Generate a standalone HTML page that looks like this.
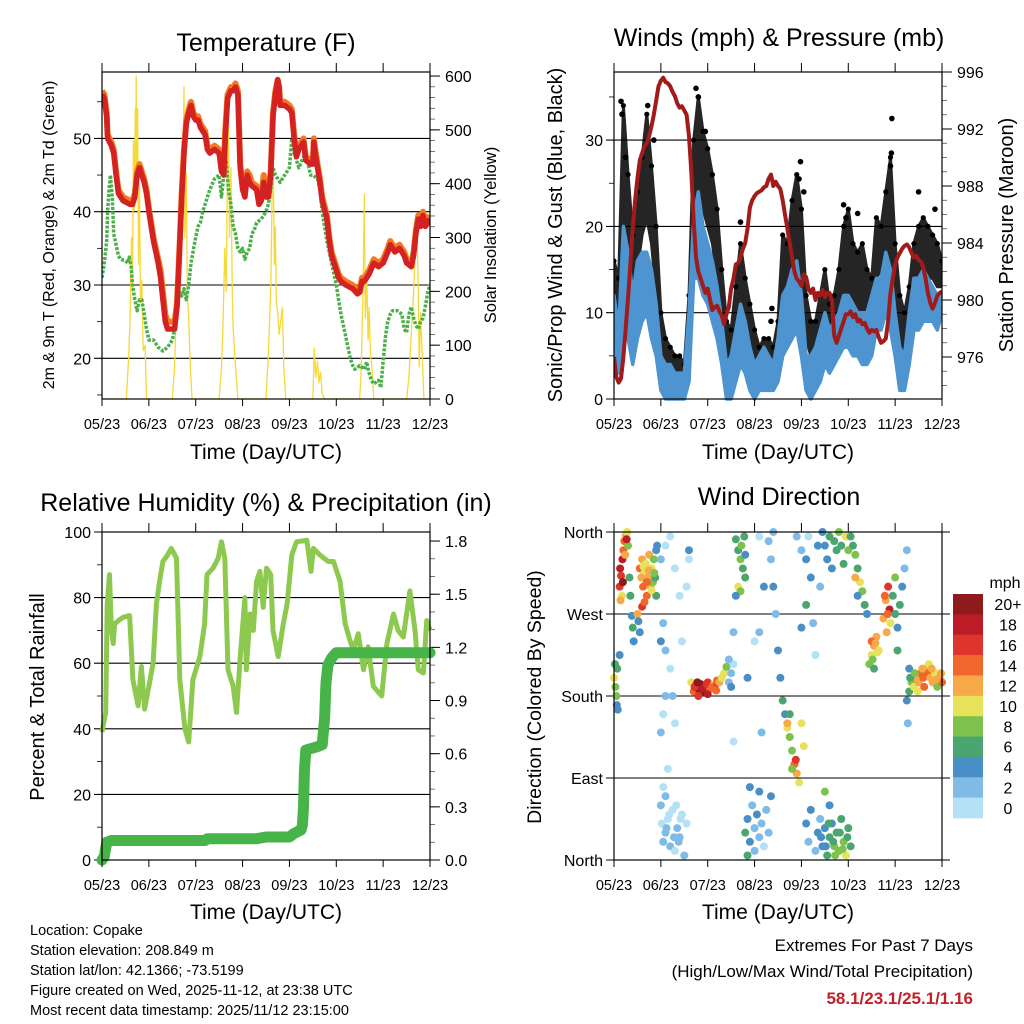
<!DOCTYPE html>
<html><head><meta charset="utf-8"><style>
html,body{margin:0;padding:0;background:#fff;}
svg{display:block;font-family:"Liberation Sans",sans-serif;}
</style></head><body>
<svg id="chart" width="1024" height="1024" viewBox="0 0 1024 1024" xmlns="http://www.w3.org/2000/svg"></svg>
<script>
// ---------- shared ----------
const xTickLabels = ["05/23","06/23","07/23","08/23","09/23","10/23","11/23","12/23"];

// ---------- temperature ----------
const tDays = [0,0.05,0.1,0.12,0.2,0.25,0.3,0.35,0.45,0.6,0.65,0.7,0.75,0.8,0.85,0.9,0.95,1.0,1.05,1.1,1.2,1.25,1.3,1.35,1.4,1.5,1.55,1.6,1.65,1.7,1.75,1.8,1.85,1.9,1.95,2.0,2.05,2.1,2.2,2.25,2.3,2.4,2.5,2.55,2.6,2.63,2.68,2.75,2.8,2.85,2.9,2.93,2.95,3.0,3.05,3.1,3.15,3.2,3.3,3.35,3.4,3.45,3.5,3.55,3.6,3.65,3.7,3.75,3.78,3.8,3.9,4.0,4.05,4.1,4.15,4.2,4.3,4.35,4.45,4.5,4.52,4.55,4.6,4.65,4.7,4.8,4.85,4.9,5.0,5.05,5.1,5.2,5.35,5.45,5.5,5.55,5.6,5.7,5.8,5.9,6.0,6.1,6.15,6.25,6.35,6.45,6.5,6.6,6.65,6.7,6.75,6.8,6.85,6.9,6.95,7.0];
const temp2m = [56,55.5,53,50,49,48,45,42.5,41.5,41,41,42,45,46,45,44,42.5,40,38,36,33,31,28,25,24,24,24,27,34,42,48,52,53.5,54.5,53,52.5,52.5,51.5,50.5,48.5,48,48.5,48,45.5,45,50,55.5,56.5,56.5,57,56,50,46,43,42,45,44,43.5,43,41,41.5,44,42,42,45,53,56,58,57,54.5,54.5,54,53.5,50,47.5,48.5,49.5,47,46.5,46.5,49.5,48,46,44,41.5,39,36,34,32,31,30.5,30,29.5,28.8,29,30.5,30.5,31.5,33,32.5,33,34.5,35.5,34.5,35,34,33,32.5,34,37,39,38,39.5,38,38.5,39];
const temp9m = [56.5,56,53.5,50.5,49.5,48.5,45.5,43,42,41.5,41.5,42.5,45.5,46.5,45.5,44.5,43,40.5,38.5,36.5,33.5,32,29,26,25,25,25,27.5,34.5,42.5,48.5,52.5,54,55,53.5,53,53,52,51,49,48.5,49,48.5,46,45.5,51,56,57,57,57.5,56.5,50.5,46.5,44,43,45.5,45,44,43.5,41.5,42,45,42.5,42.5,45.5,53.5,56.5,58,57,55,55,54.5,54,50.5,48,49,50,47.5,47,47,50,48.5,46.5,44.5,42,39.5,36.5,34.5,32.5,31.5,31,30.5,30,29.3,29.5,31,31,32,33.5,33,33.5,35,36,35,35.5,34.5,33.5,33,34.5,37.5,39.5,38.5,40,38.5,39,39.5];
const dewDays = [0,0.05,0.1,0.12,0.15,0.18,0.22,0.25,0.3,0.35,0.4,0.5,0.55,0.58,0.62,0.65,0.7,0.75,0.8,0.85,0.9,0.95,1.0,1.1,1.2,1.3,1.4,1.5,1.55,1.6,1.65,1.7,1.75,1.8,1.85,1.9,2.0,2.05,2.1,2.15,2.3,2.4,2.5,2.55,2.6,2.65,2.7,2.75,2.8,2.85,2.9,2.95,3.0,3.05,3.1,3.15,3.2,3.25,3.3,3.4,3.5,3.55,3.6,3.65,3.7,3.75,3.8,3.9,4.0,4.05,4.1,4.15,4.2,4.3,4.35,4.4,4.45,4.5,4.6,4.65,4.7,4.8,4.9,5.0,5.05,5.1,5.15,5.2,5.3,5.35,5.4,5.5,5.6,5.65,5.7,5.75,5.8,5.9,5.95,6.0,6.05,6.1,6.15,6.2,6.3,6.4,6.45,6.5,6.55,6.6,6.65,6.7,6.75,6.8,6.85,6.9,6.95,7.0];
const dewVals = [31,33,36,40,43,45,42,37,35.5,34,33.5,33.3,33,33.8,32.5,30,28,26.5,28,28,26,24,22.5,22.5,21.5,21,21.5,22.5,24,27,29,28.5,29.5,28,30,33,36.5,38,38.5,40,43,44.5,45,42,45,47,43,41,38,37,35,34.5,35,33.5,34.5,35,37,37.5,38.5,39,40,41,43,46,45,44.5,44,45,46,50,48,47,46,47.5,48,46.5,45,45,44.5,43,40,36,33,30,28,26,24.5,23,20,19,18.5,19,18.5,19.5,18,17,16.5,17,16,19.5,23,25,26,26.5,26.5,26,24,23.5,26,27,25.5,24.5,24,25,25.5,27,29,30];
const solarDays = [0,0.52,0.57,0.6,0.63,0.65,0.67,0.69,0.71,0.72,0.73,0.745,0.76,0.78,0.8,0.82,0.85,0.88,0.92,0.95,1.5,1.55,1.58,1.6,1.62,1.65,1.67,1.7,1.72,1.75,1.77,1.8,1.82,1.85,1.88,1.92,2.5,2.55,2.58,2.62,2.65,2.68,2.7,2.72,2.75,2.78,2.8,2.85,2.9,3.5,3.55,3.6,3.63,3.65,3.68,3.7,3.72,3.75,3.78,3.85,3.88,3.92,4.5,4.53,4.56,4.6,4.63,4.66,4.7,4.75,5.5,5.53,5.57,5.6,5.62,5.65,5.68,5.7,5.73,5.76,5.8,6.5,6.55,6.6,6.65,6.7,6.72,6.75,6.77,6.8,6.83,6.87,7.0];
const solarVals = [0,0,80,150,300,200,480,350,540,420,600,380,540,250,400,180,220,90,100,0,0,60,150,250,200,380,300,450,350,580,300,420,200,150,70,0,0,60,130,280,200,460,520,300,430,200,130,60,0,0,80,200,380,470,250,320,180,160,120,170,60,0,0,95,40,70,30,50,10,0,0,50,200,380,150,230,110,170,80,60,0,0,40,120,200,300,330,200,60,160,90,0,0];
const tempTicks = [20,30,40,50];
const tempMinor = [15,25,35,45,55];
const solarTicks = [0,100,200,300,400,500,600];

// ---------- winds ----------
const windStep = 0.1;
const gustLo = [9,8,20,16,12,15,19,21,18,12,5,4,3,3,2,2,5,22,25,22,20,18,14,9,5,4,6,10,8,7,4,3,4,3,3,4,10,12,14,17,13,7,5,4,6,8,7,7,9,11,12,10,10,10,9,9,14,15,16,15,10,7,5,8,12,14,15,14,14,13,13];
const gustHi = [16,14,34,26,19,24,28,33,27,20,10,7,6,5,5,4,12,30,35,31,29,26,22,15,9,8,13,18,14,11,8,6,7,7,6,9,19,18,23,26,22,12,9,9,12,15,11,12,15,20,22,18,17,18,15,14,21,20,24,28,18,12,10,13,18,20,21,20,19,18,16];
const windLo = [6,3,10,7,4,7,9,10,7,5,1,0,0,0,0,0,2,14,14,12,11,9,7,4,0,0,2,4,3,1,0,1,1,1,1,2,5,6,7,8,5,1,0,1,2,4,3,4,5,6,6,5,5,4,4,5,8,8,10,8,5,1,1,4,8,8,9,9,9,8,10];
const windHi = [12,8,20,17,12,16,17,17,15,11,5,4,4,3,3,3,10,21,24,20,18,16,13,9,4,5,8,11,9,6,4,5,6,5,4,7,12,13,15,16,12,5,5,6,8,10,8,9,10,12,12,11,10,10,10,12,14,14,17,15,10,6,5,10,14,14,15,14,13,12,12];
const gustExtraDays = [0.15,0.17,0.25,0.72,0.85,1.75,1.8,1.95,2.7,3.35,3.37,3.98,3.95,4.05,4.9,4.95,5.2,5.93,5.92,5.9,6.5,6.85];
const gustExtraVals = [34.5,33,28,34,30,36,35,31,20.5,9,10.5,27.5,25.5,24,22.5,21,21.5,32.5,28.5,27,24,22];
const pressStep = 0.05;
const pressVals = [976,974.6,974.2,974.5,976,978,980.2,982.5,985,987,988.5,989.8,990.3,990.8,991,991.5,992.2,993,994,995,
995.4,995.6,995.3,995.2,995,994.6,994.3,993.8,993.5,993.6,993.3,993,991.5,989,985.5,983,982,981.5,981,980.5,
980.8,980,979.3,979.5,979.6,979.2,978.9,978.3,979,979.5,980.8,981.5,982.5,982.6,983,983.6,984,985,986.5,987,
987.3,987.5,987.6,987.7,987.9,988,988.5,988.8,988,988.3,988,987.8,987,986,985,984,983,982,981.5,981.3,
981,981.8,981.6,980.8,980.5,980.8,980,980.5,980.3,980.7,980.2,980.5,980.5,980,977.5,977,977.5,978,978.5,979,
979,979.2,978.8,979,978.5,978.6,978.3,978.4,978,977.7,977.9,977.8,977.9,977.4,977,977.1,977.3,978.5,980.5,981.5,
982.5,983,983.3,983.6,983.8,983.9,983.7,983.3,983,983.1,982.8,982.7,982.3,981.5,980.5,979.8,979.4,979.8,980.3,980.5,980.6];
const windTicks = [0,10,20,30];
const windMinor = [5,15,25,35];
const pressTicks = [976,980,984,988,992,996];

// ---------- humidity / precip ----------
const rhDays = [0,0.08,0.11,0.16,0.2,0.24,0.27,0.35,0.45,0.59,0.66,0.77,0.84,0.91,1.0,1.09,1.16,1.23,1.3,1.4,1.48,1.59,1.66,1.77,1.85,1.94,2.09,2.19,2.24,2.37,2.48,2.55,2.62,2.69,2.8,2.87,2.94,3.05,3.08,3.16,3.23,3.3,3.37,3.44,3.51,3.6,3.65,3.76,3.87,3.95,4.05,4.15,4.37,4.46,4.51,4.65,4.83,4.94,5.08,5.19,5.29,5.36,5.47,5.58,5.68,5.79,5.97,6.08,6.22,6.32,6.43,6.57,6.68,6.75,6.86,6.93,7.0];
const rhVals = [39,45,78,87,70,66,72,73,74,74.5,55,47,59,46,53,60,78,85,91,93,95,92,55,40,36,55,62,72,87,89,92,97,92,58,53,45,60,80,58,75,70,85,88,77,89,87,70,62,72,78,93,97,97.5,88,95,93,91,91,85,72,67,64,69,58,65,53,50,66,75,70,68,82,70,58,57,73,70];
const precipDays = [0,0.05,0.1,0.2,2.2,2.25,3.3,3.5,4.0,4.1,4.25,4.28,4.3,4.32,4.35,4.6,4.7,4.75,4.78,4.82,4.9,5.0,7.0];
const precipVals = [0,0.02,0.1,0.11,0.11,0.12,0.12,0.13,0.13,0.15,0.17,0.2,0.3,0.5,0.62,0.64,0.65,0.8,1.0,1.1,1.14,1.17,1.17];
const rhTicks = [0,20,40,60,80,100];
const rhMinor = [10,30,50,70,90];
const precipTicks = [0,0.3,0.6,0.9,1.2,1.5,1.8];
const precipTickLabels = ["0.0","0.3","0.6","0.9","1.2","1.5","1.8"];

// ---------- wind direction ----------
const dirDays = [
0.12,0.13,0.15,0.18,0.2,0.22,0.25,0.28,0.3,0.17,0.14,0.19,0.24,0.27,0.33,0.35,0.38,0.4,0.42,
0.55,0.6,0.62,0.65,0.68,0.7,0.72,0.75,0.78,0.8,0.83,0.85,0.88,0.9,0.92,0.6,0.65,0.5,0.52,0.55,0.9,
0.0,0.02,0.03,0.05,0.06,0.08,0.07,0.12,
1.0,1.02,1.05,1.1,1.15,1.2,1.25,1.3,1.35,1.4,1.45,1.5,1.55,1.05,1.1,1.15,1.0,1.05,1.1,1.0,1.05,1.1,1.2,1.25,1.3,1.0,1.1,1.2,1.3,1.4,1.45,1.55,1.6,1.6,
1.65,1.7,1.75,1.8,1.85,1.9,1.95,2.0,2.05,2.1,2.15,2.2,2.25,2.3,2.35,2.4,2.45,2.5,2.55,2.45,2.5,1.8,2.0,
2.6,2.65,2.7,2.72,2.75,2.78,2.8,2.65,2.7,2.8,2.6,2.55,2.55,
2.8,2.85,2.9,2.95,3.0,3.05,3.1,3.15,3.2,3.25,3.3,3.35,2.9,2.85,3.0,3.1,
2.85,3.0,3.1,3.15,3.2,3.3,3.35,3.4,3.45,3.5,3.55,3.4,3.1,
3.6,3.65,3.7,3.75,3.8,3.85,3.9,3.88,3.95,4.0,4.05,3.7,3.8,3.75,
3.9,4.0,4.1,4.15,4.2,4.25,4.3,4.0,4.1,4.35,4.4,
4.1,4.15,4.2,4.3,4.35,4.4,4.45,4.5,4.55,4.6,4.65,4.7,4.75,4.8,4.85,4.9,4.95,5.0,5.05,4.6,4.5,
4.45,4.5,4.55,4.6,4.65,4.7,4.75,4.8,4.85,4.9,4.95,5.0,
5.05,5.1,5.15,5.2,5.25,5.3,5.35,5.4,5.15,5.2,
5.45,5.5,5.55,5.6,5.65,5.55,5.5,5.75,5.8,5.85,5.88,5.9,5.82,
5.95,6.0,6.05,6.1,6.15,6.2,6.25,6.05,6.0,
6.25,6.3,6.35,6.4,6.45,6.5,6.55,6.6,6.65,6.7,6.75,6.8,6.85,6.9,6.95,7.0,6.72,6.3,6.27,
0.58,0.63,0.7,0.74,0.8,0.86,
1.12,1.18,1.28,1.33,1.38,1.42,
4.42,4.52,4.58,4.68,4.72,4.82,4.88,4.98,
5.52,5.58,5.62,5.78,5.84,
6.32,6.42,6.48,6.58,6.62,6.78,6.88,6.98,
1.72,1.78,1.88,1.98,2.08,2.18];
const dirDegs = [
300,320,312,330,340,350,356,360,345,290,285,305,335,352,310,290,268,255,240,
320,330,300,315,325,290,310,335,300,320,305,330,310,340,345,278,283,270,262,250,290,
200,215,190,180,170,165,210,225,
60,40,20,30,45,15,55,10,35,25,50,5,40,80,70,100,140,160,180,240,260,230,210,180,150,330,345,355,320,290,240,300,330,340,
195,185,192,188,193,185,190,195,188,192,190,197,195,200,205,212,195,205,215,220,190,180,182,
352,340,330,345,320,355,310,300,295,335,290,250,130,
30,45,20,60,35,50,25,40,15,55,30,70,80,5,10,75,
200,240,250,140,300,350,330,300,270,230,200,360,355,
175,160,145,135,120,105,95,110,85,150,125,150,100,160,
355,340,330,355,310,260,225,255,280,345,300,
40,20,55,10,30,45,15,35,5,25,40,15,30,10,45,20,5,35,15,60,75,
360,345,330,355,320,350,340,360,345,325,355,340,
355,345,335,320,305,295,280,270,310,290,
215,225,235,245,230,210,240,265,285,300,275,260,250,
290,270,255,280,300,320,340,230,310,
175,185,195,190,200,195,205,200,210,205,200,195,205,190,200,195,215,210,150,
310,322,305,318,296,315,
35,50,25,60,20,45,
25,15,40,20,5,30,12,25,
220,238,228,290,270,
200,205,185,210,190,210,198,205,
190,195,188,193,189,186];
const dirSpeeds = [
17,19,16,18,15,14,12,10,8,11,13,20,13,18,7,6,4,6,5,
15,12,14,11,10,15,13,12,12,11,9,8,6,4,4,16,14,12,5,4,6,
10,7,8,9,5,4,6,4,
2,1,2,3,1,2,0,1,3,2,1,2,0,1,2,0,2,1,3,4,3,2,1,2,0,2,0,1,0,1,0,1,0,4,
10,15,17,21,22,20,18,16,14,13,17,14,12,11,10,9,3,2,1,2,4,16,19,
7,6,9,8,6,7,6,10,8,5,4,2,1,
6,5,4,3,2,4,3,2,1,3,2,4,5,7,3,4,
4,0,2,3,4,3,2,4,3,4,4,2,1,
6,5,10,8,9,14,12,17,10,11,10,13,8,7,
3,2,4,1,4,3,1,4,6,4,2,
4,2,4,3,4,2,5,4,6,7,5,8,6,9,7,8,10,6,7,5,9,
4,4,5,6,4,6,7,8,7,6,10,8,
6,7,8,6,10,8,6,5,12,4,
8,10,12,13,11,7,14,12,13,16,18,11,12,
7,6,5,6,4,3,2,6,9,
4,6,8,10,12,13,14,15,12,14,13,12,10,8,12,14,11,4,2,
13,11,14,12,10,9,
2,1,3,0,2,1,
5,4,6,7,8,6,9,7,
9,12,11,14,15,
6,9,11,13,14,12,13,12,
16,20,19,17,15,14];
const dirTicks = [0,90,180,270,360];
const dirTickLabels = ["North","East","South","West","North"];
const speedBinLabels = ["0","2","4","6","8","10","12","14","16","18","20+"];
const speedColors = ["#b5e1f6","#7fbbe6","#4a8ec6","#4aa56f","#7cc24d","#e8e25a","#f7a847","#f0662b","#dd342b","#bb1c26","#8e1a1e"];

// ---------- helpers ----------
const NS = "http://www.w3.org/2000/svg";
const svg = document.getElementById("chart");
function mk(tag, attrs, parent) {
  const e = document.createElementNS(NS, tag);
  for (const k in attrs) e.setAttribute(k, attrs[k]);
  (parent || svg).appendChild(e);
  return e;
}
function txt(str, x, y, size, anchor, parent, extra) {
  const t = mk("text", Object.assign({x: x, y: y, "font-size": size, "text-anchor": anchor || "middle", fill: "#000"}, extra || {}), parent);
  t.textContent = str;
  return t;
}
function group(parent) { return mk("g", {}, parent); }

const panels = {
  temp: {x0: 102, x1: 430, y0: 72, y1: 399},
  wind: {x0: 614, x1: 942, y0: 72, y1: 399},
  rh:   {x0: 102, x1: 430, y0: 532, y1: 860},
  dir:  {x0: 614, x1: 942, y0: 532, y1: 860}
};
function xs(p, d) { return p.x0 + d / 7 * (p.x1 - p.x0); }

const yTemp = v => 285 - (v - 30) * 7.33;
const ySolar = w => 399 - w * 0.5383;
const yWind = v => 399 - v * 8.63;
const yPress = mb => 72 + (996 - mb) * 14.25;
const yRH = v => 860 - v * 3.28;
const yPrecip = i => 860 - i * 177.2;
const yDir = d => 860 - d * 0.9111;

function frameAndX(p, g, xLabelY, titleY) {
  const r = mk("rect", {x: p.x0, y: p.y0, width: p.x1 - p.x0, height: p.y1 - p.y0, fill: "none", stroke: "#000", "stroke-width": 1.2}, g);
  
  
  const xg = group(g);
  
  
  for (let i = 0; i < xTickLabels.length; i++) {
    const x = xs(p, i);
    mk("line", {x1: x, y1: p.y0 - 9, x2: x, y2: p.y0, stroke: "#000", "stroke-width": 1}, xg);
    mk("line", {x1: x, y1: p.y1, x2: x, y2: p.y1 + 7, stroke: "#000", "stroke-width": 1}, xg);
    const t = txt(xTickLabels[i], x, xLabelY, 14.5, "middle", xg);
    
    
  }
  const tt = txt("Time (Day/UTC)", (p.x0 + p.x1) / 2, titleY, 21, "middle", g);
  
  
}
function leftAxis(p, g, ticks, labels, yf, minors, gridRight) {
  const ag = group(g);
  
  
  ticks.forEach((v, i) => {
    const y = yf(v);
    mk("line", {x1: p.x0 - 8, y1: y, x2: gridRight || p.x1, y2: y, stroke: "#000", "stroke-width": 1.1}, ag);
    if (labels) {
      const t = txt(labels[i], p.x0 - 11, y + 6, 16, "end", ag);
      
      
    }
  });
  (minors || []).forEach(v => {
    const y = yf(v);
    if (y > p.y0 && y < p.y1) mk("line", {x1: p.x0 - 5, y1: y, x2: p.x0, y2: y, stroke: "#000", "stroke-width": 0.8}, ag);
  });
}
function rightAxis(p, g, ticks, labels, yf, minorFrom, minorTo, minorStep) {
  const ag = group(g);
  
  
  for (let v = minorFrom; v <= minorTo + 1e-9; v += minorStep) {
    const y = yf(v);
    if (y >= p.y0 - 0.5 && y <= p.y1 + 0.5) mk("line", {x1: p.x1, y1: y, x2: p.x1 + 5, y2: y, stroke: "#555", "stroke-width": 0.8}, ag);
  }
  ticks.forEach((v, i) => {
    const y = yf(v);
    mk("line", {x1: p.x1, y1: y, x2: p.x1 + 10, y2: y, stroke: "#000", "stroke-width": 1}, ag);
    const t = txt(labels[i], p.x1 + 15, y + 6, 16, "start", ag);
    
    
  });
}
function vtitle(str, x, y, size, g, name) {
  const t = txt(str, 0, 0, size, "middle", g, {transform: "translate(" + x + "," + y + ") rotate(-90)"});
  
  
}
function pathFrom(days, vals, xf, yf) {
  let d = "";
  const n = Math.min(days.length, vals.length);
  for (let i = 0; i < n; i++) d += (i ? "L" : "M") + xf(days[i]).toFixed(1) + "," + yf(vals[i]).toFixed(1);
  return d;
}
function title(str, x, y, g) {
  const t = txt(str, x, y, 25, "middle", g);
  
  
}

// ---------- Temperature panel ----------
(function(){
  const p = panels.temp;
  const g = group();
  
  
  title("Temperature (F)", 266, 51, g);
  const clip = mk("clipPath", {id: "clipT"}, g);
  mk("rect", {x: p.x0, y: p.y0, width: p.x1 - p.x0, height: p.y1 - p.y0}, clip);
  leftAxis(p, g, tempTicks, tempTicks.map(String), yTemp, tempMinor);
  rightAxis(p, g, solarTicks, solarTicks.map(String), ySolar, 0, 600, 20);
  const dg = group(g); dg.setAttribute("clip-path", "url(#clipT)");
  
  
  const sol = mk("path", {d: pathFrom(solarDays, solarVals, d => xs(p, d), ySolar), fill: "none", stroke: "#f6d838", "stroke-width": 1.3, "stroke-linejoin": "round"}, dg);
  
  
  const dew = mk("path", {d: pathFrom(dewDays, dewVals, d => xs(p, d), yTemp), fill: "none", stroke: "#4bb04a", "stroke-width": 3.5, "stroke-dasharray": "3 1.5", "stroke-linejoin": "round"}, dg);
  
  
  const o = mk("path", {d: pathFrom(tDays, temp9m, d => xs(p, d), yTemp), fill: "none", stroke: "#f47a20", "stroke-width": 6, "stroke-linejoin": "round"}, dg);
  
  
  const r = mk("path", {d: pathFrom(tDays, temp2m, d => xs(p, d), yTemp), fill: "none", stroke: "#d42121", "stroke-width": 5.5, "stroke-linejoin": "round"}, dg);
  
  
  frameAndX(p, g, 429, 459);
  vtitle("2m & 9m T (Red, Orange) & 2m Td (Green)", 54, 235, 16, g, 'left-y-axis-title');
  vtitle("Solar Insolation (Yellow)", 496, 235, 16.5, g, 'right-y-axis-title');
})();

// ---------- Winds panel ----------
(function(){
  const p = panels.wind;
  const g = group();
  
  
  title("Winds (mph) & Pressure (mb)", 779, 46, g);
  const clip = mk("clipPath", {id: "clipW"}, g);
  mk("rect", {x: p.x0, y: p.y0, width: p.x1 - p.x0, height: p.y1 - p.y0 + 2}, clip);
  leftAxis(p, g, windTicks, windTicks.map(String), yWind, windMinor);
  rightAxis(p, g, pressTicks, pressTicks.map(String), yPress, 973, 996, 1);
  const dg = group(g); dg.setAttribute("clip-path", "url(#clipW)");
  
  
  const xw = i => xs(p, i * windStep);
  function band(lo, hi) {
    let d = "";
    const n = Math.min(lo.length, hi.length);
    for (let i = 0; i < n; i++) d += (i ? "L" : "M") + xw(i).toFixed(1) + "," + yWind(hi[i]).toFixed(1);
    for (let i = n - 1; i >= 0; i--) d += "L" + xw(i).toFixed(1) + "," + yWind(lo[i]).toFixed(1);
    return d + "Z";
  }
  const gb = mk("path", {d: band(gustLo, gustHi), fill: "#000", stroke: "#000", "stroke-width": 3, "stroke-linejoin": "round", opacity: 0.85}, dg);
  
  
  const n = Math.min(gustLo.length, gustHi.length);
  for (let i = 0; i < n; i++) {
    const c = mk("circle", {cx: xw(i), cy: yWind(gustHi[i]), r: 2.6, fill: "#000"}, dg);
    
    
  }
  for (let i = 0; i < Math.min(gustExtraDays.length, gustExtraVals.length); i++) {
    const c = mk("circle", {cx: xs(p, gustExtraDays[i]), cy: yWind(gustExtraVals[i]), r: 2.8, fill: "#000"}, dg);
    
    
  }
  const wb = mk("path", {d: band(windLo, windHi), fill: "#4d94d0", stroke: "#4d94d0", "stroke-width": 3.5, "stroke-linejoin": "round"}, dg);
  
  
  let pd = "";
  pressVals.forEach((v, i) => { pd += (i ? "L" : "M") + xs(p, i * pressStep).toFixed(1) + "," + yPress(v).toFixed(1); });
  const pl = mk("path", {d: pd, fill: "none", stroke: "#a11b1b", "stroke-width": 4, "stroke-linejoin": "round"}, dg);
  
  
  frameAndX(p, g, 429, 459);
  vtitle("Sonic/Prop Wind & Gust (Blue, Black)", 562, 235, 20, g, 'left-y-axis-title');
  vtitle("Station Pressure (Maroon)", 1013, 235, 20, g, 'right-y-axis-title');
})();

// ---------- RH panel ----------
(function(){
  const p = panels.rh;
  const g = group();
  
  
  title("Relative Humidity (%) & Precipitation (in)", 266, 511, g);
  const clip = mk("clipPath", {id: "clipR"}, g);
  mk("rect", {x: p.x0 - 8, y: p.y0, width: p.x1 - p.x0 + 16, height: p.y1 - p.y0 + 8}, clip);
  leftAxis(p, g, rhTicks, rhTicks.map(String), yRH, rhMinor);
  rightAxis(p, g, precipTicks, precipTickLabels, yPrecip, 0, 1.8, 0.1);
  const dg = group(g); dg.setAttribute("clip-path", "url(#clipR)");
  
  
  const rl = mk("path", {d: pathFrom(rhDays, rhVals, d => xs(p, d), yRH), fill: "none", stroke: "#8dc94f", "stroke-width": 5, "stroke-linejoin": "round"}, dg);
  
  
  const pl = mk("path", {d: pathFrom(precipDays, precipVals, d => xs(p, d), yPrecip), fill: "none", stroke: "#46b448", "stroke-width": 11, "stroke-linecap": "round", "stroke-linejoin": "round"}, dg);
  
  
  frameAndX(p, g, 890, 919);
  vtitle("Percent & Total Rainfall", 44, 697, 20, g, 'left-y-axis-title');
})();

// ---------- Wind direction panel ----------
(function(){
  const p = panels.dir;
  const g = group();
  
  
  title("Wind Direction", 779, 505, g);
  leftAxis(p, g, dirTicks, dirTickLabels, yDir, [], p.x1 + 8);
  const dg = group(g);
  
  
  const n = Math.min(dirDays.length, dirDegs.length, dirSpeeds.length);
  for (let i = 0; i < n; i++) {
    const bin = Math.max(0, Math.min(10, Math.floor(dirSpeeds[i] / 2)));
    const c = mk("circle", {cx: xs(p, dirDays[i]), cy: yDir(dirDegs[i]), r: 4, fill: speedColors[bin]}, dg);
    
    
  }
  frameAndX(p, g, 890, 919);
  vtitle("Direction (Colored By Speed)", 541, 697, 19.5, g, 'left-y-axis-title');
  // colorbar
  const cb = group(g);
  
  
  const top = 594, h = 224 / speedColors.length;
  const u = txt("mph", 1005, 588, 16, "middle", cb);
  
  
  for (let k = 0; k < speedColors.length; k++) {
    const idx = speedColors.length - 1 - k;
    const rr = mk("rect", {x: 953, y: top + k * h, width: 30, height: h + 0.3, fill: speedColors[idx]}, cb);
    
    
    const t = txt(speedBinLabels[idx], 1008, top + k * h + h / 2 + 6, 16, "middle", cb);
    
    
  }
})();

// ---------- footer ----------
(function(){
  const g = group();
  
  
  const lines = ["Location: Copake","Station elevation: 208.849 m","Station lat/lon: 42.1366; -73.5199","Figure created on Wed, 2025-11-12, at 23:38 UTC","Most recent data timestamp: 2025/11/12 23:15:00"];
  lines.forEach((s, i) => {
    const t = txt(s, 30, 935 + i * 20, 14.5, "start", g);
    
    
  });
  const g2 = group();
  
  
  const a = txt("Extremes For Past 7 Days", 973, 951, 17, "end", g2);
  
  
  const b = txt("(High/Low/Max Wind/Total Precipitation)", 973, 977, 17, "end", g2);
  
  
  const c = txt("58.1/23.1/25.1/1.16", 973, 1004, 17, "end", g2, {"font-weight": "bold", fill: "#c3202a"});
  
  
})();
</script>
</body></html>
